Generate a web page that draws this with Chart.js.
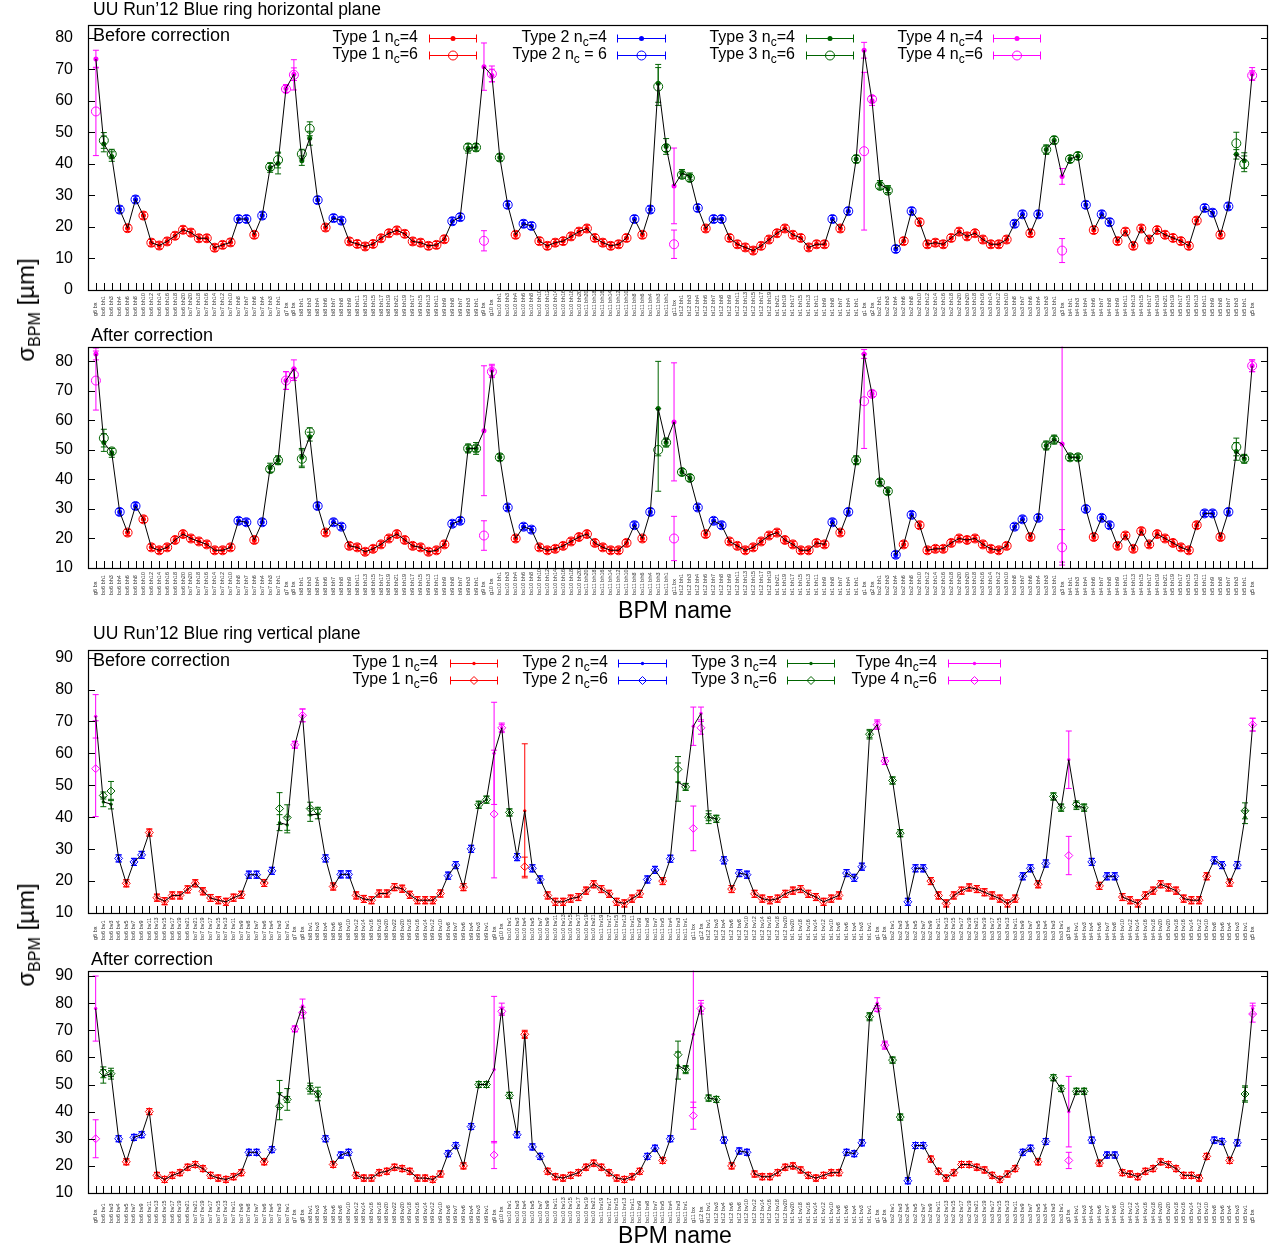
<!DOCTYPE html>
<html><head><meta charset="utf-8">
<script src="https://cdn.jsdelivr.net/npm/chart.js@4.4.1/dist/chart.umd.min.js"></script>
<style>
body{margin:0;background:#fff;width:1275px;height:1249px;position:relative;overflow:hidden;font-family:"Liberation Sans",Arial,Helvetica,sans-serif;}
canvas{position:absolute;left:0;}
.yl{position:absolute;transform:translate(-50%,-50%) rotate(-90deg);font-size:24px;white-space:nowrap;color:#000;z-index:5;}
.yl span{font-size:16px;position:relative;top:6px;}
.xl{position:absolute;transform:translate(-50%,-50%);font-size:23px;white-space:nowrap;color:#000;z-index:5;}
</style></head><body>
<canvas id="c1" width="1275" height="322" style="top:0px"></canvas>
<canvas id="c2" width="1275" height="303" style="top:322px"></canvas>
<canvas id="c3" width="1275" height="321" style="top:625px"></canvas>
<canvas id="c4" width="1275" height="303" style="top:946px"></canvas>
<div class="yl" style="left:26px;top:310px">σ<span>BPM</span> [µm]</div>
<div class="yl" style="left:26px;top:935px">σ<span>BPM</span> [µm]</div>
<div class="xl" style="left:675px;top:610px">BPM name</div>
<div class="xl" style="left:675px;top:1235px">BPM name</div>
<script>
// ---------------- DATA ----------------
const hLabels = ['g6 bx',
'bo6 bh1','bo6 bh3','bo6 bh4','bo6 bh6','bo6 bh8','bo6 bh10','bo6 bh12','bo6 bh14','bo6 bh16','bo6 bh18','bo6 bh20',
'bo7 bh20','bo7 bh18','bo7 bh16','bo7 bh14','bo7 bh12','bo7 bh10','bo7 bh8','bo7 bh7','bo7 bh6','bo7 bh4','bo7 bh3','bo7 bh1',
'g7 bx','g8 bx',
'bi8 bh1','bi8 bh3','bi8 bh4','bi8 bh6','bi8 bh7','bi8 bh8','bi8 bh9','bi8 bh11','bi8 bh13','bi8 bh15','bi8 bh17','bi8 bh19','bi8 bh21',
'bi9 bh19','bi9 bh17','bi9 bh15','bi9 bh13','bi9 bh11','bi9 bh9','bi9 bh8','bi9 bh7','bi9 bh3','bi9 bh1',
'g9 bx','g10 bx',
'bo10 bh1','bo10 bh3','bo10 bh4','bo10 bh6','bo10 bh8','bo10 bh10','bo10 bh12','bo10 bh14','bo10 bh16','bo10 bh18','bo10 bh20',
'bo11 bh20','bo11 bh18','bo11 bh16','bo11 bh14','bo11 bh12','bo11 bh10','bo11 bh8','bo11 bh6','bo11 bh4','bo11 bh3','bo11 bh1',
'g11 bx',
'bi12 bh1','bi12 bh3','bi12 bh4','bi12 bh6','bi12 bh7','bi12 bh8','bi12 bh9','bi12 bh11','bi12 bh13','bi12 bh15','bi12 bh17','bi12 bh19',
'bi1 bh21','bi1 bh19','bi1 bh17','bi1 bh15','bi1 bh13','bi1 bh11','bi1 bh9','bi1 bh8','bi1 bh7','bi1 bh4','bi1 bh1',
'g1 bx','g2 bx',
'bo2 bh1','bo2 bh3','bo2 bh4','bo2 bh6','bo2 bh8','bo2 bh10','bo2 bh12','bo2 bh14','bo2 bh16','bo2 bh18','bo2 bh20',
'bo3 bh20','bo3 bh18','bo3 bh16','bo3 bh14','bo3 bh12','bo3 bh10','bo3 bh8','bo3 bh7','bo3 bh6','bo3 bh4','bo3 bh3','bo3 bh1',
'g3 bx',
'bi4 bh1','bi4 bh3','bi4 bh4','bi4 bh6','bi4 bh7','bi4 bh8','bi4 bh9','bi4 bh11','bi4 bh13','bi4 bh15','bi4 bh17','bi4 bh19','bi4 bh21',
'bi5 bh19','bi5 bh17','bi5 bh15','bi5 bh13','bi5 bh11','bi5 bh9','bi5 bh8','bi5 bh7','bi5 bh3','bi5 bh1',
'g5 bx'];

const vLabels = ['g6 bx',
'bo6 bv1','bo6 bv3','bo6 bv4','bo6 bv5','bo6 bv7','bo6 bv9','bo6 bv11','bo6 bv13','bo6 bv15','bo6 bv17','bo6 bv19','bo6 bv21',
'bo7 bv21','bo7 bv19','bo7 bv17','bo7 bv15','bo7 bv13','bo7 bv11','bo7 bv9','bo7 bv8','bo7 bv7','bo7 bv6','bo7 bv4','bo7 bv3','bo7 bv1',
'g7 bx','g8 bx',
'bi8 bv1','bi8 bv3','bi8 bv4','bi8 bv6','bi8 bv8','bi8 bv10','bi8 bv12','bi8 bv14','bi8 bv16','bi8 bv18','bi8 bv20','bi8 bv22',
'bi9 bv20','bi9 bv18','bi9 bv16','bi9 bv14','bi9 bv12','bi9 bv10','bi9 bv8','bi9 bv7','bi9 bv6','bi9 bv4','bi9 bv3','bi9 bv1',
'g9 bx','g10 bx',
'bo10 bv1','bo10 bv3','bo10 bv4','bo10 bv5','bo10 bv7','bo10 bv9','bo10 bv11','bo10 bv13','bo10 bv15','bo10 bv17','bo10 bv19','bo10 bv21',
'bo11 bv19','bo11 bv17','bo11 bv15','bo11 bv13','bo11 bv11','bo11 bv9','bo11 bv8','bo11 bv7','bo11 bv5','bo11 bv4','bo11 bv3','bo11 bv1',
'g11 bx','g12 bx',
'bi12 bv1','bi12 bv3','bi12 bv4','bi12 bv6','bi12 bv8','bi12 bv10','bi12 bv12','bi12 bv14','bi12 bv16','bi12 bv18','bi12 bv20',
'bi1 bv20','bi1 bv18','bi1 bv16','bi1 bv14','bi1 bv12','bi1 bv10','bi1 bv8','bi1 bv6','bi1 bv4','bi1 bv3','bi1 bv1',
'g1 bx','g2 bx',
'bo2 bv1','bo2 bv3','bo2 bv4','bo2 bv5','bo2 bv7','bo2 bv9','bo2 bv11','bo2 bv13','bo2 bv15','bo2 bv17','bo2 bv19','bo2 bv21',
'bo3 bv19','bo3 bv17','bo3 bv15','bo3 bv13','bo3 bv11','bo3 bv9','bo3 bv7','bo3 bv5','bo3 bv4','bo3 bv3','bo3 bv1',
'g3 bx',
'bi4 bv1','bi4 bv3','bi4 bv4','bi4 bv6','bi4 bv7','bi4 bv8','bi4 bv10','bi4 bv12','bi4 bv14','bi4 bv16','bi4 bv18','bi4 bv20',
'bi5 bv20','bi5 bv18','bi5 bv16','bi5 bv14','bi5 bv12','bi5 bv10','bi5 bv8','bi5 bv6','bi5 bv4','bi5 bv3','bi5 bv1',
'g5 bx'];

// BPM type (1..4) per BPM
const hTypes = [
4,3,3,2,1,2,1,1,1,1, 1,1,1,1,1,1,1,1,2,2, 1,2,3,3,4,4,3,3,2,1, 2,2,1,1,1,1,1,1,1,1,
1,1,1,1,1,2,2,3,3,4, 4,3,2,1,2,2,1,1,1,1, 1,1,1,1,1,1,1,1,2,1, 2,3,3,4,3,3,2,1,2,2,
1,1,1,1,1,1,1,1,1,1, 1,1,1,2,1,2,3,4,4,3, 3,2,1,2,1,1,1,1,1,1, 1,1,1,1,1,1,2,2,1,2,
3,3,4,3,3,2,1,2,2,1, 1,1,1,1,1,1,1,1,1,1, 2,2,1,2,3,3,4];
const vTypes = [
4,3,3,2,1,2,2,1,1,1, 1,1,1,1,1,1,1,1,1,1, 2,2,1,2,3,3,4,4,3,3, 2,1,2,2,1,1,1,1,1,1,
1,1,1,1,1,1,2,2,1,2, 3,3,4,4,3,2,1,2,2,1, 1,1,1,1,1,1,1,1,1,1, 1,1,2,2,1,2,3,3,4,4,
3,3,2,1,2,2,1,1,1,1, 1,1,1,1,1,1,1,1,2,2, 2,3,4,4,3,3,2,2,2,1, 1,1,1,1,1,1,1,1,1,1,
1,2,2,1,2,3,3,4,3,3, 2,1,2,2,1,1,1,1,1,1, 1,1,1,1,1,1,2,2,1,2, 3,4];

// Horizontal, before correction
const hBefore4 = [
73.2,46.3,42.3,25.5,19.6,28.7,23.6,15.0,14.1,15.4, 17.2,19.1,18.2,16.4,16.4,13.4,14.3,15.1,22.5,22.5,
17.5,23.6,38.8,40.1,63.9,68.4,41.0,48.1,28.5,19.8, 22.8,22.0,15.4,14.6,13.8,14.6,16.4,18.0,18.9,17.8,
15.4,15.0,14.0,14.3,16.1,21.8,23.1,44.9,45.2,70.8, 68.0,42.0,27.0,17.5,21.0,20.3,15.5,14.0,15.0,15.5,
17.0,18.5,19.5,16.5,15.0,14.0,14.5,16.5,22.5,17.5, 25.5,65.5,45.5,33.0,37.0,36.0,26.0,19.5,22.5,22.5,
16.5,14.5,13.5,12.5,14.0,16.0,18.0,19.5,17.5,16.5, 13.5,14.5,14.5,22.5,19.5,25.0,41.5,76.0,60.0,33.5,
32.0,13.0,15.5,25.0,21.5,14.5,15.0,14.5,16.5,18.5, 17.0,18.0,16.0,14.5,14.5,16.0,21.0,24.0,18.0,24.0,
44.5,47.5,36.0,41.5,42.5,27.0,19.0,24.0,21.5,15.5, 18.5,14.0,19.5,16.0,19.0,17.5,16.5,15.5,14.0,22.0,
26.0,24.5,17.5,26.5,43.0,41.0,68.5];
const hBefore6 = [
56.6,47.4,43.1,25.5,19.6,28.7,23.6,15.0,14.1,15.4, 17.2,19.1,18.2,16.4,16.4,13.4,14.3,15.1,22.5,22.5,
17.5,23.6,39.0,41.2,63.7,68.2,43.1,51.1,28.5,19.8, 22.8,22.0,15.4,14.6,13.8,14.6,16.4,18.0,18.9,17.8,
15.4,15.0,14.0,14.3,16.1,21.8,23.1,45.2,45.2,15.6, 68.5,42.0,27.0,17.5,21.0,20.3,15.5,14.0,15.0,15.5,
17.0,18.5,19.5,16.5,15.0,14.0,14.5,16.5,22.5,17.5, 25.5,64.5,45.0,14.5,36.5,35.5,26.0,19.5,22.5,22.5,
16.5,14.5,13.5,12.5,14.0,16.0,18.0,19.5,17.5,16.5, 13.5,14.5,14.5,22.5,19.5,25.0,41.5,44.0,60.5,33.0,
31.5,13.0,15.5,25.0,21.5,14.5,15.0,14.5,16.5,18.5, 17.0,18.0,16.0,14.5,14.5,16.0,21.0,24.0,18.0,24.0,
44.5,47.5,12.5,41.5,42.5,27.0,19.0,24.0,21.5,15.5, 18.5,14.0,19.5,16.0,19.0,17.5,16.5,15.5,14.0,22.0,
26.0,24.5,17.5,26.5,46.5,40.0,68.0];
// Horizontal, after correction
const hAfter4 = [
82.5,52.5,49.0,29.0,22.0,31.0,26.5,17.0,16.0,17.0, 19.5,21.5,20.0,19.0,18.0,16.0,16.0,17.0,26.0,25.5,
19.5,25.5,44.0,46.5,73.5,77.5,47.5,54.5,31.0,22.0, 25.5,24.0,17.5,17.0,15.5,16.5,18.0,20.0,21.5,19.5,
17.5,17.0,15.5,16.0,18.0,25.0,26.0,50.5,50.5,56.5, 77.0,47.5,30.5,20.0,24.0,23.0,17.0,16.0,16.5,17.5,
19.0,20.5,21.5,18.5,17.0,16.0,16.0,18.5,24.5,20.0, 29.0,64.0,52.5,59.5,42.5,40.5,30.5,21.5,26.0,24.5,
19.0,17.5,16.0,17.0,19.0,21.0,22.0,19.5,18.0,16.0, 16.0,18.5,18.0,25.5,22.0,29.0,46.5,82.5,69.0,39.0,
36.0,14.5,18.0,28.0,24.5,16.0,16.5,16.5,18.5,20.0, 19.5,20.0,18.0,16.5,16.0,17.5,24.0,26.5,20.5,27.0,
51.5,53.5,52.0,47.5,47.5,30.0,20.5,27.0,24.5,17.5, 21.0,16.5,22.5,18.0,21.5,20.0,18.5,17.0,16.0,24.5,
28.5,28.5,20.5,29.0,49.5,47.0,78.5];
const hAfter6 = [
73.5,54.0,49.5,29.0,22.0,31.0,26.5,17.0,16.0,17.0, 19.5,21.5,20.0,19.0,18.0,16.0,16.0,17.0,26.0,25.5,
19.5,25.5,43.5,46.5,73.5,75.5,47.0,56.0,31.0,22.0, 25.5,24.0,17.5,17.0,15.5,16.5,18.0,20.0,21.5,19.5,
17.5,17.0,15.5,16.0,18.0,25.0,26.0,50.5,50.5,21.0, 76.5,47.5,30.5,20.0,24.0,23.0,17.0,16.0,16.5,17.5,
19.0,20.5,21.5,18.5,17.0,16.0,16.0,18.5,24.5,20.0, 29.0,50.0,52.5,20.0,42.5,40.5,30.5,21.5,26.0,24.5,
19.0,17.5,16.0,17.0,19.0,21.0,22.0,19.5,18.0,16.0, 16.0,18.5,18.0,25.5,22.0,29.0,46.5,66.5,69.0,39.0,
36.0,14.5,18.0,28.0,24.5,16.0,16.5,16.5,18.5,20.0, 19.5,20.0,18.0,16.5,16.0,17.5,24.0,26.5,20.5,27.0,
51.5,53.5,17.0,47.5,47.5,30.0,20.5,27.0,24.5,17.5, 21.0,16.5,22.5,18.0,21.5,20.0,18.5,17.0,16.0,24.5,
28.5,28.5,20.5,29.0,51.0,47.0,78.5];
// Vertical, before correction
const vBefore4 = [
71.6,44.8,44.1,27.1,19.3,26.0,28.2,35.2,14.8,13.7, 15.5,15.5,17.4,19.3,16.8,14.7,14.0,13.5,14.8,15.7,
22.0,22.0,19.4,23.2,38.3,37.6,62.7,71.9,40.7,41.0, 27.1,18.3,22.1,22.1,15.5,14.4,14.0,16.1,16.1,18.1,
17.6,15.7,14.0,14.0,14.0,16.1,21.7,25.0,18.1,30.1, 43.9,45.5,60.0,68.0,41.5,27.5,42.0,24.0,20.5,15.5,
13.5,13.5,14.5,15.0,17.0,19.0,17.5,16.0,13.5,13.0, 14.5,16.0,20.5,23.5,20.0,27.0,51.0,49.5,68.5,72.5,
40.0,39.5,26.5,17.5,22.5,22.0,16.0,14.5,14.0,14.5, 16.0,17.0,17.5,16.0,15.0,13.5,14.5,15.5,22.5,21.0,
24.5,66.0,69.0,57.6,51.5,35.0,13.5,24.0,24.0,20.0, 15.5,13.0,15.5,17.0,18.0,17.5,16.5,15.5,14.5,13.0,
14.5,21.5,24.0,19.0,25.5,46.5,43.0,58.0,43.5,43.0, 26.0,18.5,21.5,21.5,15.0,14.0,13.0,15.5,17.0,19.0,
18.0,17.0,14.5,14.0,14.0,21.5,26.5,25.0,19.5,25.0, 40.0,69.0];
const vBefore6 = [
55.2,46.8,48.2,27.1,19.3,26.0,28.2,35.2,14.8,13.7, 15.5,15.5,17.4,19.3,16.8,14.7,14.0,13.5,14.8,15.7,
22.0,22.0,19.4,23.2,42.7,39.9,62.7,71.9,42.7,42.0, 27.1,18.3,22.1,22.1,15.5,14.4,14.0,16.1,16.1,18.1,
17.6,15.7,14.0,14.0,14.0,16.1,21.7,25.0,18.1,30.1, 43.9,45.5,41.0,68.0,41.5,27.5,24.5,24.0,20.5,15.5,
13.5,13.5,14.5,15.0,17.0,19.0,17.5,16.0,13.5,13.0, 14.5,16.0,20.5,23.5,20.0,27.0,55.0,49.5,36.5,68.0,
40.0,39.5,26.5,17.5,22.5,22.0,16.0,14.5,14.0,14.5, 16.0,17.0,17.5,16.0,15.0,13.5,14.5,15.5,22.5,21.0,
24.5,66.0,69.0,57.6,51.5,35.0,13.5,24.0,24.0,20.0, 15.5,13.0,15.5,17.0,18.0,17.5,16.5,15.5,14.5,13.0,
14.5,21.5,24.0,19.0,25.5,46.5,43.0,28.0,44.0,43.0, 26.0,18.5,21.5,21.5,15.0,14.0,13.0,15.5,17.0,19.0,
18.0,17.0,14.5,14.0,14.0,21.5,26.5,25.0,19.5,25.0, 42.0,69.0];
// Vertical, after correction
const vAfter4 = [
78.0,53.0,54.0,30.0,21.5,30.5,31.5,40.0,16.5,15.0, 16.5,17.5,19.5,20.5,19.0,16.5,15.5,15.0,16.0,17.5,
25.0,25.0,21.5,26.0,46.5,44.5,70.5,79.0,48.5,46.5, 30.0,20.5,24.0,25.0,16.5,15.5,15.5,17.5,18.0,19.5,
19.0,18.0,15.5,15.5,15.0,17.0,24.5,27.5,20.0,34.5, 50.0,50.0,55.5,78.0,46.0,31.5,68.5,27.0,23.5,18.0,
16.0,15.5,16.5,17.5,19.5,21.0,19.5,17.5,15.5,15.0, 16.0,18.0,23.5,26.5,22.0,30.0,57.0,55.5,68.5,79.0,
45.0,44.5,29.5,20.0,25.5,25.0,17.0,16.0,16.0,17.5, 19.5,20.0,18.5,16.5,15.5,16.5,17.5,17.5,25.0,24.5,
28.5,75.0,80.0,64.5,59.0,38.0,14.5,27.5,27.5,22.5, 18.0,15.5,17.5,20.5,20.5,19.5,18.5,16.5,15.0,17.0,
19.0,25.0,26.5,21.5,29.0,52.5,48.5,40.0,47.5,47.5, 29.5,21.0,24.0,24.0,17.5,17.0,16.0,18.0,19.0,21.5,
20.5,19.0,16.5,16.5,15.5,23.5,29.5,29.0,22.0,28.5, 46.5,78.0];
const vAfter6 = [
30.0,54.5,54.0,30.0,21.5,30.5,31.5,40.0,16.5,15.0, 16.5,17.5,19.5,20.5,19.0,16.5,15.5,15.0,16.0,17.5,
25.0,25.0,21.5,26.0,42.0,44.5,70.5,76.5,48.5,46.5, 30.0,20.5,24.0,25.0,16.5,15.5,15.5,17.5,18.0,19.5,
19.0,18.0,15.5,15.5,15.0,17.0,24.5,27.5,20.0,34.5, 50.0,50.0,24.0,77.0,46.0,31.5,68.5,27.0,23.5,18.0,
16.0,15.5,16.5,17.5,19.5,21.0,19.5,17.5,15.5,15.0, 16.0,18.0,23.5,26.5,22.0,30.0,61.0,55.5,38.5,78.0,
45.0,44.5,29.5,20.0,25.5,25.0,17.0,16.0,16.0,17.5, 19.5,20.0,18.5,16.5,15.5,16.5,17.5,17.5,25.0,24.5,
28.5,75.0,78.0,64.5,59.0,38.0,14.5,27.5,27.5,22.5, 18.0,15.5,17.5,20.5,20.5,19.5,18.5,16.5,15.0,17.0,
19.0,25.0,26.5,21.5,29.0,52.5,48.5,22.0,47.5,47.5, 29.5,21.0,24.0,24.0,17.5,17.0,16.0,18.0,19.0,21.5,
20.5,19.0,16.5,16.5,15.5,23.5,29.5,29.0,22.0,28.5, 46.5,76.0];

// Error bars [index, half-width] where visibly larger than the marker; others use DEFAULT_ERR
const DEFAULT_ERR = 1.1;
const hBeforeErr4 = [[0,2.8],[1,2.5],[2,1.5],[22,1.5],[23,3.3],[24,1.2],[25,2],[26,1.5],[27,2.2],[47,1.5],[48,1.2],[49,7.5],[50,2],[71,6],[72,2.5],[73,12],[74,1.2],[96,1.2],[97,2.5],[98,1.5],[99,1.2],[120,1.5],[121,1.2],[122,2.5],[144,1.5],[145,2.5],[146,2]];
const hBeforeErr6 = [[0,14],[1,2.5],[2,1.5],[23,2.5],[25,4.8],[26,1.5],[27,2.2],[49,3.2],[50,2.5],[71,6],[73,4.5],[97,25],[122,3.8],[144,3.5],[145,2.5],[146,1.5]];
const hAfterErr4 = [[0,2],[1,3],[2,1.5],[22,1.5],[23,1.5],[24,3],[25,3],[26,3],[27,1.5],[47,1.5],[48,2],[49,22],[50,2],[71,16],[72,1.5],[73,20],[96,1.5],[97,1.5],[98,1],[120,1.5],[121,1.5],[122,40],[144,3],[145,1.5],[146,2]];
const hAfterErr6 = [[0,10],[1,3],[24,3],[25,2],[26,3],[27,1.5],[49,5],[50,2],[71,14],[73,7.5],[97,16],[122,6],[144,3],[146,2]];
const vBeforeErr4 = [[0,6.8],[1,1.5],[2,1.5],[24,2.5],[25,2.5],[26,1],[27,2],[28,2],[29,1.5],[52,16],[53,1.5],[56,21],[76,6],[77,1],[78,6],[79,2],[80,2],[101,1.5],[102,1.5],[127,9],[150,2],[151,2]];
const vBeforeErr6 = [[0,15],[2,3],[24,5],[25,4],[27,2],[28,2],[52,20],[56,3],[76,4],[78,7],[79,2],[127,6],[150,2.5],[151,2]];
const vAfterErr4 = [[0,12],[1,2.5],[2,2],[24,5],[25,4],[26,1],[27,2.5],[28,2],[29,2.5],[52,27],[53,2],[56,1.5],[76,5],[77,1.5],[78,27],[79,2],[101,1.5],[102,2],[103,1.5],[127,13],[150,2.5],[151,2]];
const vAfterErr6 = [[0,7],[1,2],[24,5],[27,2],[52,5],[53,1.5],[76,5],[78,5],[79,2],[127,3],[150,3],[151,3]];

const yTicksH1 = [0,10,20,30,40,50,60,70,80];
const yTicksH2 = [10,20,30,40,50,60,70,80];
const yTicksV = [10,20,30,40,50,60,70,80,90];

const hLegendText = [
 [['Type 1 n','c','=4'],['Type 1 n','c','=6']],
 [['Type 2 n','c','=4'],['Type 2 n','c',' = 6']],
 [['Type 3 n','c','=4'],['Type 3 n','c','=6']],
 [['Type 4 n','c','=4'],['Type 4 n','c','=6']]];
const vLegendText = [
 [['Type 1 n','c','=4'],['Type 1 n','c','=6']],
 [['Type 2 n','c','=4'],['Type 2 n','c','=6']],
 [['Type 3 n','c','=4'],['Type 3 n','c','=6']],
 [['Type 4n','c','=4'],['Type 4 n','c','=6']]];

// ---------------- STYLE ----------------
const FONT = '"Liberation Sans", Arial, Helvetica, sans-serif';
const TYPE_COLORS = ['#ff0000','#0000ff','#006400','#ff00ff'];
const hLegendPos = [{r:418,x1:429,x2:477},{r:607,x1:617,x2:666},{r:795,x1:806,x2:854},{r:983,x1:993,x2:1041}];
const vLegendPos = [{r:438,x1:450,x2:498},{r:608,x1:618,x2:667},{r:777,x1:787,x2:835},{r:937,x1:948,x2:1001}];

function errMap(pairs){const m={};pairs.forEach(p=>{m[p[0]]=p[1];});return m;}

function drawMarker(ctx, kind, x, y, color){
  ctx.save();
  ctx.lineWidth=1;
  if(kind==='dotH'){ctx.fillStyle=color;ctx.beginPath();ctx.arc(x,y,2.5,0,Math.PI*2);ctx.fill();}
  else if(kind==='dotV'){ctx.fillStyle=color;ctx.beginPath();ctx.arc(x,y,1.7,0,Math.PI*2);ctx.fill();}
  else if(kind==='circle'){ctx.strokeStyle=color;ctx.beginPath();ctx.arc(x,y,4.5,0,Math.PI*2);ctx.stroke();}
  else {ctx.strokeStyle=color;ctx.beginPath();ctx.moveTo(x,y-4);ctx.lineTo(x+4,y);ctx.lineTo(x,y+4);ctx.lineTo(x-4,y);ctx.closePath();ctx.stroke();}
  ctx.restore();
}

const decorPlugin = {
  id:'decor',
  beforeDatasetsDraw(chart){
    const p = chart.options.plugins.decor.panel;
    const ctx = chart.ctx, a = chart.chartArea, xs = chart.scales.x, ys = chart.scales.y;
    const m4 = errMap(p.e4), m6 = errMap(p.e6);
    ctx.save();
    ctx.beginPath(); ctx.rect(a.left,a.top,a.right-a.left,a.bottom-a.top); ctx.clip();
    ctx.lineWidth = 1;
    for(let i=0;i<p.v4.length;i++){
      const col = TYPE_COLORS[p.types[i]-1];
      const px = xs.getPixelForValue(i);
      [[p.v4[i], m4[i]],[p.v6[i], m6[i]]].forEach(function(q){
        const e = (q[1]===undefined) ? DEFAULT_ERR : q[1];
        const y1 = ys.getPixelForValue(q[0]-e), y2 = ys.getPixelForValue(q[0]+e);
        ctx.strokeStyle = col;
        ctx.beginPath();
        ctx.moveTo(px,y1); ctx.lineTo(px,y2);
        ctx.moveTo(px-3,y1); ctx.lineTo(px+3,y1);
        ctx.moveTo(px-3,y2); ctx.lineTo(px+3,y2);
        ctx.stroke();
      });
    }
    ctx.restore();
  },
  afterDraw(chart){
    const p = chart.options.plugins.decor.panel;
    const ctx = chart.ctx, a = chart.chartArea, xs = chart.scales.x, ys = chart.scales.y;
    ctx.save();
    // frame
    ctx.strokeStyle='#000'; ctx.lineWidth=1.2;
    ctx.strokeRect(Math.round(a.left)+0.5, Math.round(a.top)+0.5, Math.round(a.right-a.left)-1, Math.round(a.bottom-a.top));
    // y ticks (inward, both sides)
    ctx.lineWidth=1;
    ctx.beginPath();
    p.yticks.forEach(v=>{
      const py = Math.round(ys.getPixelForValue(v))+0.5;
      ctx.moveTo(a.left,py); ctx.lineTo(a.left+7,py);
      ctx.moveTo(a.right,py); ctx.lineTo(a.right-7,py);
    });
    // x ticks (inward, bottom)
    for(let i=0;i<p.labels.length;i++){
      const px = Math.round(xs.getPixelForValue(i))+0.5;
      ctx.moveTo(px,a.bottom); ctx.lineTo(px,a.bottom-7);
    }
    ctx.stroke();
    // x tick labels (rotated)
    ctx.fillStyle='#333';
    ctx.font='5.5px '+FONT;
    ctx.textAlign='left'; ctx.textBaseline='middle';
    for(let i=0;i<p.labels.length;i++){
      const px = xs.getPixelForValue(i);
      ctx.save(); ctx.translate(px, a.bottom + p.labelOffset); ctx.rotate(-Math.PI/2);
      ctx.fillText(p.labels[i],0,0); ctx.restore();
    }
    // title & note
    ctx.fillStyle='#000';
    ctx.textBaseline='middle';
    if(p.title){ctx.font='17.5px '+FONT; ctx.fillText(p.title, 93, p.titleY);}
    ctx.font='18px '+FONT; ctx.fillText(p.note, p.noteX, p.noteY);
    // legend
    p.legendPos.forEach((lp,ci)=>{
      const col = TYPE_COLORS[ci];
      p.legendText[ci].forEach((parts,ri)=>{
        const y = p.legendRows[ri];
        const mf='16px '+FONT, sf='12px '+FONT;
        ctx.font=mf; const w0=ctx.measureText(parts[0]).width, w2=ctx.measureText(parts[2]).width;
        ctx.font=sf; const w1=ctx.measureText(parts[1]).width;
        let x = lp.r - (w0+w1+w2);
        ctx.fillStyle='#000';
        ctx.font=mf; ctx.fillText(parts[0],x,y); x+=w0;
        ctx.font=sf; ctx.fillText(parts[1],x,y+5); x+=w1;
        ctx.font=mf; ctx.fillText(parts[2],x,y);
        ctx.strokeStyle=col; ctx.lineWidth=1;
        const yy=Math.round(y)+0.5;
        ctx.beginPath();
        ctx.moveTo(lp.x1,yy); ctx.lineTo(lp.x2,yy);
        ctx.moveTo(lp.x1+0.5,yy-4); ctx.lineTo(lp.x1+0.5,yy+4);
        ctx.moveTo(lp.x2-0.5,yy-4); ctx.lineTo(lp.x2-0.5,yy+4);
        ctx.stroke();
        const cx=(lp.x1+lp.x2)/2;
        drawMarker(ctx, ri===0 ? p.dotKind : p.openKind, cx, yy, col);
      });
    });
    ctx.restore();
  }
};

function makePanel(p){
  const N = p.labels.length;
  const datasets = [];
  // black connecting line through nc=4 values
  datasets.push({data:p.v4.map((v,i)=>({x:i,y:v})), showLine:true, borderColor:'#000', borderWidth:1, pointRadius:0, tension:0, order:0});
  for(let t=1;t<=4;t++){
    const col = TYPE_COLORS[t-1];
    const idx = []; for(let i=0;i<N;i++) if(p.types[i]===t) idx.push(i);
    datasets.push({data:idx.map(i=>({x:i,y:p.v6[i]})), showLine:false,
      pointStyle:p.openStyle, pointRadius:p.openR, pointBorderWidth:1,
      pointBorderColor:col, pointBackgroundColor:'rgba(255,255,255,0)', order:2});
    datasets.push({data:idx.map(i=>({x:i,y:p.v4[i]})), showLine:false,
      pointStyle:'circle', pointRadius:p.dotR, pointBorderWidth:0,
      pointBorderColor:col, pointBackgroundColor:col, order:1});
  }
  new Chart(document.getElementById(p.id), {
    type:'scatter',
    data:{datasets},
    plugins:[decorPlugin],
    options:{
      responsive:false, animation:false, devicePixelRatio:1,
      layout:{padding:{top:p.padTop,right:7,left:0,bottom:0}, autoPadding:false},
      plugins:{legend:{display:false}, tooltip:{enabled:false}, decor:{panel:p}},
      scales:{
        x:{type:'linear', min:-1, max:N+1, grid:{display:false,drawTicks:false}, border:{display:false},
           ticks:{display:false}, afterFit:s=>{s.height=p.axisH;}},
        y:{type:'linear', min:p.ymin, max:p.ymax, grid:{display:false,drawTicks:false}, border:{display:false},
           afterBuildTicks:s=>{s.ticks=p.yticks.map(v=>({value:v}));},
           ticks:{color:'#000', font:{size:16, family:FONT}, padding:15},
           afterFit:s=>{s.width=88;}}
      }
    }
  });
}

const common = {};
makePanel({id:'c1', labels:hLabels, types:hTypes, v4:hBefore4, v6:hBefore6, e4:hBeforeErr4, e6:hBeforeErr6,
  ymin:0, ymax:84, yticks:yTicksH1, padTop:25, axisH:32, labelOffset:26,
  openStyle:'circle', openR:4.5, dotR:2.5, dotKind:'dotH', openKind:'circle',
  title:'UU Run’12 Blue ring horizontal plane', titleY:10, note:'Before correction', noteX:93, noteY:36,
  legendPos:hLegendPos, legendText:hLegendText, legendRows:[38,54.5]});
makePanel({id:'c2', labels:hLabels, types:hTypes, v4:hAfter4, v6:hAfter6, e4:hAfterErr4, e6:hAfterErr6,
  ymin:10, ymax:85, yticks:yTicksH2, padTop:1, axisH:57, labelOffset:27,
  openStyle:'circle', openR:4.5, dotR:2.5, dotKind:'dotH', openKind:'circle',
  title:null, note:'After correction', noteX:91, noteY:14,
  legendPos:[], legendText:[], legendRows:[]});
makePanel({id:'c3', labels:vLabels, types:vTypes, v4:vBefore4, v6:vBefore6, e4:vBeforeErr4, e6:vBeforeErr6,
  ymin:10, ymax:92.5, yticks:yTicksV, padTop:20, axisH:33, labelOffset:27,
  openStyle:'rectRot', openR:4, dotR:1.7, dotKind:'dotV', openKind:'diamond',
  title:'UU Run’12 Blue ring vertical plane', titleY:9, note:'Before correction', noteX:93, noteY:36,
  legendPos:vLegendPos, legendText:vLegendText, legendRows:[38,55]});
makePanel({id:'c4', labels:vLabels, types:vTypes, v4:vAfter4, v6:vAfter6, e4:vAfterErr4, e6:vAfterErr6,
  ymin:10, ymax:92, yticks:yTicksV, padTop:1, axisH:56, labelOffset:30,
  openStyle:'rectRot', openR:4, dotR:1.7, dotKind:'dotV', openKind:'diamond',
  title:null, note:'After correction', noteX:91, noteY:14,
  legendPos:[], legendText:[], legendRows:[]});
</script>
</body></html>
